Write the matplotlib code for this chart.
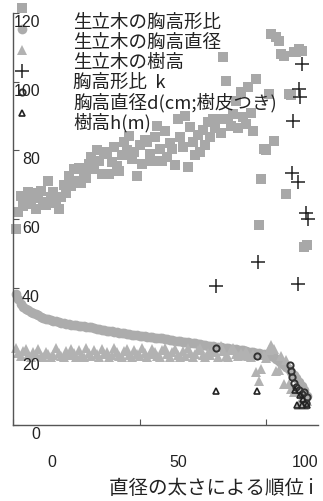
import matplotlib
matplotlib.use('Agg')
import matplotlib.pyplot as plt

plt.rcParams['font.family'] = ['Noto Sans CJK JP', 'DejaVu Sans']

# rank by stem diameter (1 = thickest)
ranks = list(range(1, 117))

# standing trees: breast-height form ratio
form_ratio = [
    57.0, 62.1, 66.8, 63.8, 65.0, 67.9, 64.5, 66.0, 63.0, 67.5,
    68.2, 65.0, 64.0, 71.1, 66.5, 68.0, 64.8, 63.0, 66.5, 70.0,
    67.5, 72.5, 69.5, 74.5, 71.0, 75.0, 70.5, 73.5, 72.0, 76.0,
    78.1, 74.5, 80.2, 77.0, 73.0, 79.0, 79.6, 73.2, 76.5, 81.0,
    75.5, 74.1, 78.5, 82.5, 80.0, 84.3, 77.5, 79.6, 72.6, 81.5,
    76.0, 83.0, 82.5, 79.0, 77.0, 84.0, 87.2, 80.5, 77.0, 85.5,
    78.0, 82.0, 80.5, 75.8, 89.2, 84.0, 81.0, 90.1, 75.2, 86.9,
    82.5, 78.5, 84.5, 79.6, 86.0, 81.5, 88.3, 84.0, 89.0, 86.5,
    89.2, 85.0, 107.3, 100.3, 89.2, 87.0, 90.5, 94.5, 86.5, 97.1,
    89.8, 87.8, 98.5, 91.0, 85.7, 100.9, 58.3, 71.7, 80.5, 80.0,
    96.5, 114.0, 82.8, 113.0, 111.7, 108.0, 107.6, 67.3, 96.5, 96.0,
    108.7, 108.5, 109.6, 109.0, 51.9, 52.5,
]

# standing trees: diameter at breast height
diameter = [
    38.2, 36.6, 35.3, 34.5, 33.9, 33.4, 33.0, 32.6, 32.2, 31.9,
    31.6, 31.3, 31.0, 30.8, 30.6, 30.4, 30.2, 30.0, 29.8, 29.7,
    29.5, 29.4, 29.2, 29.1, 29.0, 28.9, 28.8, 28.7, 28.6, 28.5,
    28.4, 28.2, 28.0, 27.9, 27.8, 27.7, 27.5, 27.4, 27.3, 27.2,
    27.1, 26.9, 26.8, 26.7, 26.6, 26.5, 26.3, 26.2, 26.1, 26.0,
    25.9, 25.8, 25.7, 25.6, 25.5, 25.4, 25.3, 25.3, 25.2, 25.1,
    25.0, 24.9, 24.8, 24.6, 24.5, 24.4, 24.3, 24.2, 24.1, 24.0,
    23.9, 23.8, 23.6, 23.5, 23.4, 23.3, 23.1, 23.0, 22.9, 22.8,
    22.7, 22.6, 22.5, 22.4, 22.3, 22.2, 22.1, 22.0, 21.9, 21.8,
    21.7, 21.6, 21.4, 21.3, 21.2, 21.0, 20.9, 20.7, 20.6, 20.4,
    20.2, 20.0, 19.7, 19.2, 18.7, 18.2, 17.6, 17.0, 16.2, 15.4,
    14.5, 13.6, 12.6, 11.5, 10.2, 8.5,
]

# standing trees: tree height
height = [
    22.4, 21.0, 20.0, 21.6, 22.2, 20.4, 19.8, 21.2, 20.6, 22.0,
    20.2, 19.9, 21.4, 20.8, 19.8, 20.5, 22.3, 21.0, 20.1, 19.8,
    21.5, 20.3, 22.0, 20.9, 19.9, 21.7, 20.4, 19.8, 22.4, 21.1,
    20.0, 21.8, 20.6, 19.9, 22.2, 20.7, 21.3, 19.8, 20.5, 22.5,
    21.2, 20.0, 19.8, 21.6, 22.1, 20.3, 19.9, 21.9, 20.8, 20.1,
    22.4, 21.0, 19.8, 20.6, 22.0, 21.4, 20.0, 19.9, 21.8, 22.5,
    20.7, 19.8, 21.2, 22.2, 20.4, 19.9, 21.5, 20.2, 22.3, 21.0,
    19.8, 20.6, 21.9, 22.4, 20.3, 19.8, 21.1, 20.5, 22.0, 21.4,
    19.9, 23.0, 21.6, 20.2, 19.8, 21.8, 22.3, 20.6, 20.0, 21.0,
    20.5, 21.5, 20.2, 19.8, 20.8, 15.5, 12.8, 16.2, 20.5, 19.5,
    21.8, 23.2, 22.0, 15.7, 16.0, 20.0, 11.8, 19.0, 12.0, 10.5,
    9.5, 10.0, 5.8, 8.0, 5.8, 7.0,
]

# felled sample trees
k_rank = [80.2, 96.8, 112.6, 114.2, 113.0, 113.4, 110.7, 110.3, 112.6, 115.8, 116.6]
k_val = [40.5, 47.5, 41.1, 105.2, 98.0, 95.6, 88.6, 73.5, 70.8, 61.8, 60.1]

d_rank = [80.2, 96.4, 109.5, 109.9, 110.3, 111.1, 111.9, 113.0, 114.2, 115.0, 116.2, 115.8]
d_val = [22.4, 20.1, 17.5, 15.7, 14.0, 12.2, 11.1, 10.2, 9.0, 9.6, 8.2, 6.4]

h_rank = [80.2, 96.4, 111.5, 113.4, 114.6, 112.3, 114.2, 116.2]
h_val = [9.9, 9.9, 10.2, 8.7, 7.6, 5.8, 5.8, 5.8]

x_ticks = [0, 50, 100]
y_ticks = [0, 20, 40, 60, 80, 100, 120]

series = [
    ('生立木の胸高形比', ranks, form_ratio,
     dict(marker='s', ms=6.5, mfc='#a8a8a8', mec='#a8a8a8', mew=0)),
    ('生立木の胸高直径', ranks, diameter,
     dict(marker='o', ms=7, mfc='#acacac', mec='#acacac', mew=0)),
    ('生立木の樹高', ranks, height,
     dict(marker='^', ms=7, mfc='#b2b2b2', mec='#b2b2b2', mew=0)),
    ('胸高形比  k', k_rank, k_val,
     dict(marker='+', ms=9.5, mfc='none', mec='#222222', mew=1.1)),
    ('胸高直径d(cm;樹皮つき)', d_rank, d_val,
     dict(marker='o', ms=4.5, mfc='none', mec='#333333', mew=1.4)),
    ('樹高h(m)', h_rank, h_val,
     dict(marker='^', ms=4.5, mfc='none', mec='#222222', mew=1.2)),
]

W, H = 323, 502
fig = plt.figure(figsize=(W / 100, H / 100), dpi=100)
ax = fig.add_axes([13 / W, (H - 426) / H, (318 - 13) / W, (426 - 14) / H])
ax.set_xlim(0, 120.5)
ax.set_ylim(0, 120)

for label, xs, ys, st in series:
    ax.plot(xs, ys, ls='none', clip_on=False, **st)

for side in ['top', 'right']:
    ax.spines[side].set_visible(False)
for side in ['left', 'bottom']:
    ax.spines[side].set_color('#555555')
    ax.spines[side].set_linewidth(1.0)

ax.set_xticks(x_ticks)
ax.set_yticks(y_ticks)
ax.set_xticklabels([])
ax.set_yticklabels([])
ax.tick_params(direction='in', length=4, width=0.8, color='#555555')

# the printed numbers sit offset from their tick marks
num_font = dict(family='Liberation Sans', fontsize=11.5, color='#222222')
for v in x_ticks:
    ax.annotate(str(v), xy=(v, 0), xycoords=('data', 'axes fraction'),
                xytext=(39 * 0.72, -37 * 0.72), textcoords='offset points',
                ha='center', va='center', **num_font)
for v in y_ticks:
    ax.annotate(str(v), xy=(0, v), xycoords=('axes fraction', 'data'),
                xytext=(27 * 0.72, -8.5 * 0.72), textcoords='offset points',
                ha='right', va='center', **num_font)

# legend drawn by hand: marker column and text column
for j, (label, xs, ys, st) in enumerate(series):
    ax.plot([22 / W], [1 - (9 + 21 * j) / H], ls='none', transform=fig.transFigure,
            clip_on=False, **st)
    fig.text(73 / W, 1 - (23 + 19.9 * j) / H, label, ha='left', va='center',
             fontsize=13.3, color='#222222')

fig.text(211 / W, 1 - 489 / H, '直径の太さによる順位 i', ha='center', va='center',
         fontsize=14, color='#222222')

fig.savefig('out.png', dpi=100)
